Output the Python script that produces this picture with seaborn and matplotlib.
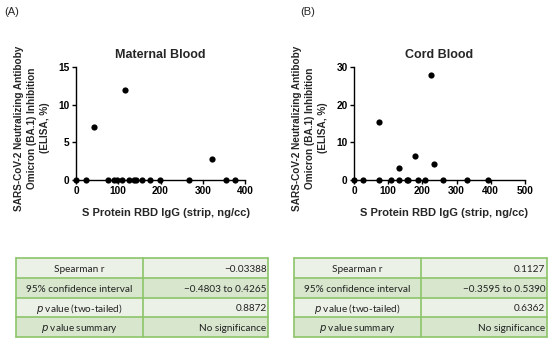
import matplotlib
matplotlib.use("Agg")
import matplotlib.pyplot as plt
import seaborn as sns
import pandas as pd
from matplotlib.patches import Rectangle

# ---- data ----
maternal_x = [0, 24, 75, 91, 96, 110, 126, 137, 142, 156, 175, 198, 267, 355, 376, 43, 117, 321]
maternal_y = [0, 0, 0, 0, 0, 0, 0, 0, 0, 0, 0, 0, 0, 0, 0, 7.1, 11.9, 2.8]
cord_x = [0, 26, 73, 107, 131, 154, 159, 187, 207, 260, 330, 392, 73, 131, 177, 225, 235]
cord_y = [0, 0, 0, 0, 0, 0, 0, 0, 0, 0, 0, 0, 15.3, 3.2, 6.4, 27.8, 4.3]

titles = ["Maternal Blood", "Cord Blood"]
panel_labels = ["(A)", "(B)"]
xlabel = "S Protein RBD IgG (strip, ng/cc)"
ylabel = "SARS-CoV-2 Neutralizing Antiboby\nOmicron (BA.1) Inhibition\n(ELISA, %)"
maternal_xticks = [0, 100, 200, 300, 400]
maternal_yticks = [0, 5, 10, 15]
cord_xticks = [0, 100, 200, 300, 400, 500]
cord_yticks = [0, 10, 20, 30]

table_rows = ["Spearman r", "95% confidence interval", "p value (two-tailed)", "p value summary"]
maternal_stats = ["\u22120.03388", "\u22120.4803 to 0.4265", "0.8872", "No significance"]
cord_stats = ["0.1127", "\u22120.3595 to 0.5390", "0.6362", "No significance"]

sns.set_theme(style="ticks")
plt.rcParams['font.family'] = ['Liberation Sans', 'DejaVu Sans']

W, H = 550, 341
fig = plt.figure(figsize=(W / 100, H / 100), dpi=100)

def fx(px):
    return px / W

def fy(py):
    return 1 - py / H

panels = [
    dict(x=maternal_x, y=maternal_y, xt=maternal_xticks, yt=maternal_yticks,
         left=76, right=245, lab_x=4, ylab_x=32, stats=maternal_stats, tl=16, tr=268, tc=143),
    dict(x=cord_x, y=cord_y, xt=cord_xticks, yt=cord_yticks,
         left=354, right=525, lab_x=300, ylab_x=310, stats=cord_stats, tl=294, tr=547, tc=421),
]

top_px, bot_px = 67, 180
for i, p in enumerate(panels):
    ax = fig.add_axes([fx(p['left']), fy(bot_px), fx(p['right'] - p['left']), (bot_px - top_px) / H])
    df = pd.DataFrame({"x": p['x'], "y": p['y']})
    sns.scatterplot(data=df, x="x", y="y", ax=ax, color="black", s=20,
                    edgecolor="black", linewidth=0, clip_on=False, zorder=5)
    ax.set_xlim(p['xt'][0], p['xt'][-1])
    ax.set_ylim(p['yt'][0], p['yt'][-1])
    ax.set_xticks(p['xt'])
    ax.set_yticks(p['yt'])
    for s in ["top", "right"]:
        ax.spines[s].set_visible(False)
    for s in ["left", "bottom"]:
        ax.spines[s].set_linewidth(1.0)
        ax.spines[s].set_color("black")
    ax.tick_params(axis="both", length=3, width=1, pad=1.5, labelsize=7.3, colors="black")
    for lbl in ax.get_xticklabels() + ax.get_yticklabels():
        lbl.set_fontweight("bold")
    ax.set_xlabel("")
    ax.set_ylabel("")
    ax.set_title(titles[i], fontsize=9, fontweight="bold", pad=0, y=1.0)
    ax.title.set_position((0.5, 1.08))
    fig.text(fx((p['left'] + p['right']) / 2 + 5), fy(213), xlabel, ha="center", va="center",
             fontsize=8, fontweight="bold")
    fig.text(fx(p['ylab_x']), fy(128), ylabel, ha="center", va="center", rotation=90,
             fontsize=7.2, fontweight="bold", linespacing=1.4)
    fig.text(fx(p['lab_x']), fy(12), panel_labels[i], ha="left", va="center", fontsize=8)

    # table
    tax = fig.add_axes([fx(p['tl']), fy(337), fx(p['tr'] - p['tl']), (337 - 258) / H])
    tax.set_xlim(p['tl'], p['tr'])
    tax.set_ylim(337, 258)
    tax.axis("off")
    row_edges = [258, 278, 298, 317, 337]
    colors = ["#ebf1e6", "#d7e6cd", "#ebf1e6", "#d7e6cd"]
    for r in range(4):
        y0, y1 = row_edges[r], row_edges[r + 1]
        tax.add_patch(Rectangle((p['tl'], y0), p['tr'] - p['tl'], y1 - y0,
                                facecolor=colors[r], edgecolor="none"))
        ym = (y0 + y1) / 2 + 1
        name = table_rows[r]
        if name.startswith("p "):
            txt = r"$\it{p}$" + name[1:]
        else:
            txt = name
        tax.text((p['tl'] + p['tc']) / 2, ym, txt, ha="center", va="center",
                 fontsize=7.2, family="Lato", color="#222222")
        tax.text(p['tr'] - 1.5, ym, p['stats'][r], ha="right", va="center",
                 fontsize=7.2, family="Lato", color="#222222")
    border = "#8cc56a"
    for yv in row_edges:
        tax.plot([p['tl'], p['tr']], [yv, yv], color=border, lw=1.2, clip_on=False)
    for xv in [p['tl'], p['tc'], p['tr']]:
        tax.plot([xv, xv], [258, 337], color=border, lw=1.2, clip_on=False)

fig.savefig("out.png", dpi=100)
